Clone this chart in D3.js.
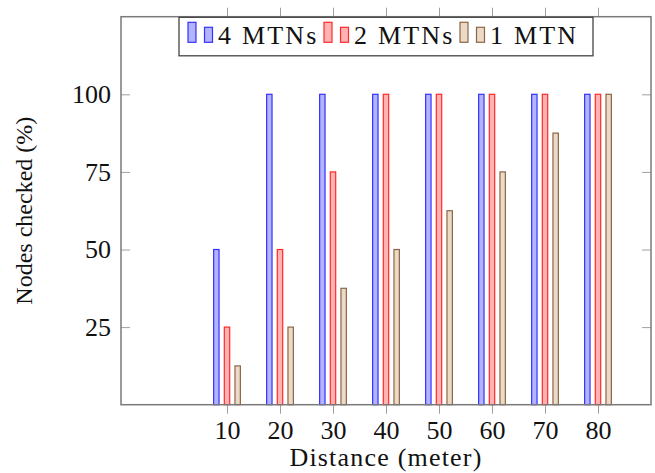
<!DOCTYPE html>
<html>
<head>
<meta charset="utf-8">
<script src="https://cdn.jsdelivr.net/npm/d3@7"></script>
<style>
  body { margin: 0; background: #fff; }
  svg text { font-family: "Liberation Serif", "Times New Roman", serif; fill: #111; }
</style>
</head>
<body>
<div id="chart"></div>
<script>
const width = 655;
const height = 473;
const margin = { top: 16.7, right: 4, bottom: 68.3, left: 121 };

// Data
const distances = [10, 20, 30, 40, 50, 60, 70, 80];
const seriesNames = ["4 MTNs", "2 MTNs", "1 MTN"];
const mtn4 = [50, 100, 100, 100, 100, 100, 100, 100];
const mtn2 = [25, 50, 75, 100, 100, 100, 100, 100];
const mtn1 = [12.5, 25, 37.5, 50, 62.5, 75, 87.5, 100];
const yTicks = [25, 50, 75, 100];

const seriesValues = [mtn4, mtn2, mtn1];
const strokes = ["#3333ff", "#ff2a2a", "#8b6748"];
const fills = ["#b3b3ff", "#ffb3b3", "#ecd9c6"];

const x = d3.scaleLinear()
    .domain([-10, 90])
    .range([margin.left, width - margin.right]);

const y = d3.scaleLinear()
    .domain([0, 125])
    .range([height - margin.bottom, margin.top]);

// offsets of the three bars around each tick
const offset = d3.scaleBand()
    .domain(seriesNames)
    .range([-16, 16]);
const barWidth = 5.4;

const svg = d3.create("svg")
    .attr("width", width)
    .attr("height", height);

// --- Bars ---
seriesNames.forEach((name, si) => {
    svg.append("g")
        .selectAll("rect")
        .data(distances.map((d, i) => ({ d, v: seriesValues[si][i] })))
        .join("rect")
        .attr("x", p => x(p.d) + offset(name) + offset.bandwidth() / 2 - barWidth / 2)
        .attr("y", p => y(p.v))
        .attr("width", barWidth)
        .attr("height", p => y(0) - y(p.v))
        .attr("fill", fills[si])
        .attr("stroke", strokes[si])
        .attr("stroke-width", 1.2);
});

// --- Axes ---
const tickColor = "#a0a0a0";

const xAxis = svg.append("g")
    .attr("transform", `translate(0,${y(0)})`)
    .call(d3.axisBottom(x).tickValues(distances).tickSize(9).tickPadding(7));
xAxis.select(".domain").remove();
xAxis.selectAll("line").attr("stroke", tickColor);
xAxis.selectAll("text")
    .attr("font-size", 26)
    .attr("font-family", "Liberation Serif, serif");

const xTop = svg.append("g")
    .attr("transform", `translate(0,${y(125)})`)
    .call(d3.axisTop(x).tickValues(distances).tickSize(9).tickFormat(""));
xTop.select(".domain").remove();
xTop.selectAll("line").attr("stroke", tickColor);

const yAxis = svg.append("g")
    .attr("transform", `translate(${x(-10)},0)`)
    .call(d3.axisLeft(y).tickValues(yTicks).tickSize(-9).tickPadding(10));
yAxis.select(".domain").remove();
yAxis.selectAll("line").attr("stroke", tickColor);
yAxis.selectAll("text")
    .attr("font-size", 26)
    .attr("font-family", "Liberation Serif, serif");

const yRight = svg.append("g")
    .attr("transform", `translate(${x(90)},0)`)
    .call(d3.axisRight(y).tickValues(yTicks).tickSize(-9).tickFormat(""));
yRight.select(".domain").remove();
yRight.selectAll("line").attr("stroke", tickColor);

// frame
svg.append("rect")
    .attr("x", x(-10))
    .attr("y", y(125))
    .attr("width", x(90) - x(-10))
    .attr("height", y(0) - y(125))
    .attr("fill", "none")
    .attr("stroke", "#7a7a7a")
    .attr("stroke-width", 1.5);

// --- Axis labels ---
svg.append("text")
    .attr("x", (x(-10) + x(90)) / 2)
    .attr("y", 466)
    .attr("text-anchor", "middle")
    .attr("font-size", 26)
    .attr("letter-spacing", 1.2)
    .text("Distance (meter)");

svg.append("text")
    .attr("transform", `translate(32,${(y(0) + y(125)) / 2}) rotate(-90)`)
    .attr("text-anchor", "middle")
    .attr("font-size", 24)
    .text("Nodes checked (%)");

// --- Legend ---
const legend = svg.append("g");
legend.append("rect")
    .attr("x", 179)
    .attr("y", 17.3)
    .attr("width", 414)
    .attr("height", 38.5)
    .attr("fill", "#fff")
    .attr("stroke", "#444")
    .attr("stroke-width", 1.3);

const legendX = d3.scalePoint()
    .domain(seriesNames)
    .range([188, 460]);

seriesNames.forEach((name, si) => {
    const g = legend.append("g").attr("transform", `translate(${legendX(name)},0)`);
    g.append("rect")
        .attr("x", 0).attr("y", 22.3)
        .attr("width", 8).attr("height", 20)
        .attr("fill", fills[si]).attr("stroke", strokes[si]).attr("stroke-width", 1.2);
    g.append("rect")
        .attr("x", 16.5).attr("y", 27.3)
        .attr("width", 8).attr("height", 15)
        .attr("fill", fills[si]).attr("stroke", strokes[si]).attr("stroke-width", 1.2);
    g.append("text")
        .attr("x", 30)
        .attr("y", 43.5)
        .attr("font-size", 26)
        .attr("letter-spacing", 2.2)
        .text(name);
});

document.querySelector("#chart").append(svg.node());
</script>
</body>
</html>
